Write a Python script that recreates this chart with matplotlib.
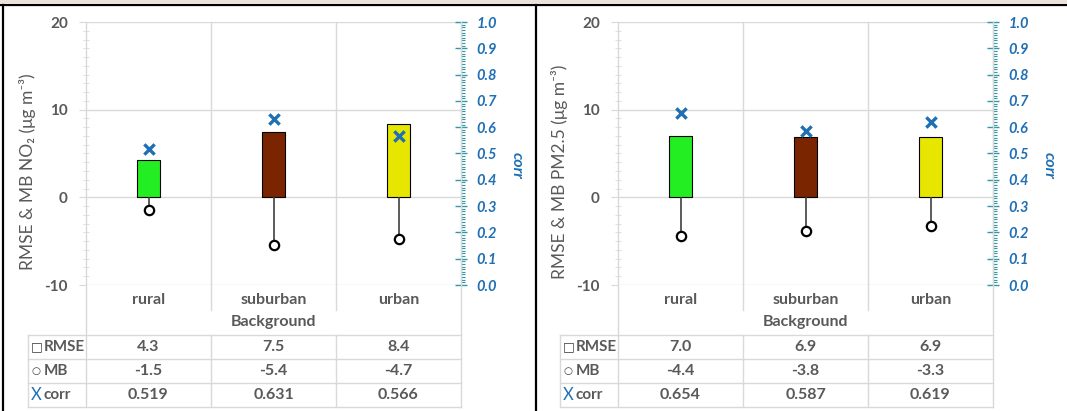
import numpy as np
import matplotlib
matplotlib.use("Agg")
import matplotlib.pyplot as plt
import matplotlib.transforms as mtransforms
from matplotlib.lines import Line2D
from matplotlib.patches import Rectangle
from matplotlib.ticker import MultipleLocator, FormatStrFormatter

plt.rcParams['font.family'] = ['Lato', 'DejaVu Sans']
plt.rcParams['axes.unicode_minus'] = False

# Model evaluation statistics by station type
categories = ["rural", "suburban", "urban"]
group_label = "Background"

no2_rmse = [4.3, 7.5, 8.4]
no2_mb = [-1.5, -5.4, -4.7]
no2_corr = [0.519, 0.631, 0.566]

pm25_rmse = [7.0, 6.9, 6.9]
pm25_mb = [-4.4, -3.8, -3.3]
pm25_corr = [0.654, 0.587, 0.619]

bar_colors = ["#22ee22", "#7a2500", "#e6e600"]
GRAY = "#595959"
LIGHT = "#d9d9d9"
BLUE = "#1f6fb4"
TEAL = "#3397a6"

W, H = 1067, 411
fig = plt.figure(figsize=(W / 100, H / 100), dpi=100)
fig.patch.set_facecolor("white")

# pixel coordinates measured from the top-left corner
pix = mtransforms.Affine2D().scale(1 / W, -1 / H).translate(0, 1) + fig.transFigure


def px_axes(x0, y0, x1, y1):
    return fig.add_axes([x0 / W, 1 - y1 / H, (x1 - x0) / W, (y1 - y0) / H])


def draw_panel(off, ylabel, rmse, mb, corr):
    ax = px_axes(86 + off, 22, 461 + off, 285)
    x = np.arange(len(categories))

    ax.bar(x, rmse, width=0.19, color=bar_colors, edgecolor="black", lw=0.8, zorder=3)
    ax.vlines(x, 0, mb, color="#404040", lw=1.2, zorder=3)
    ax.scatter(x, mb, s=45, facecolor="white", edgecolor="black", lw=1.6, zorder=4)

    ax.set_xlim(-0.5, 2.5)
    ax.set_ylim(-10, 20)
    ax.set_yticks([-10, 0, 10, 20])
    ax.yaxis.set_minor_locator(MultipleLocator(1))
    ax.grid(axis="y", color=LIGHT, lw=1, zorder=0)
    for s in ax.spines.values():
        s.set_visible(False)
    ax.tick_params(axis="y", which="major", length=5, color=LIGHT, direction="out",
                   labelcolor=GRAY, labelsize=11, pad=8)
    ax.tick_params(axis="y", which="minor", length=4, color=LIGHT, direction="inout")
    for t in ax.get_yticklabels():
        t.set_fontweight("bold")
    ax.set_xticks(x)
    ax.set_xticklabels(categories, color=GRAY, fontsize=11.5, fontweight="bold")
    ax.tick_params(axis="x", length=0, pad=6)

    # secondary axis for correlation
    ax2 = ax.twinx()
    ax2.set_ylim(0, 1)
    for name, s in ax2.spines.items():
        s.set_visible(name == "right")
    ax2.spines["right"].set_color(TEAL)
    ax2.yaxis.set_major_locator(MultipleLocator(0.1))
    ax2.yaxis.set_minor_locator(MultipleLocator(0.01))
    ax2.yaxis.set_major_formatter(FormatStrFormatter("%.1f"))
    ax2.tick_params(axis="y", which="major", direction="inout", length=8, width=1,
                    color=TEAL, labelcolor=BLUE, labelsize=10.5, pad=7)
    ax2.tick_params(axis="y", which="minor", direction="out", length=3, width=0.8, color=TEAL)
    for t in ax2.get_yticklabels():
        t.set_fontweight("bold")
        t.set_fontstyle("italic")
    ax2.scatter(x, corr, marker="x", s=55, lw=2.4, color=BLUE, zorder=5)

    fig.text(517 + off, 165, "corr", transform=pix, rotation=270, ha="center", va="center",
             color=BLUE, fontsize=11.5, fontweight="bold", fontstyle="italic")
    fig.text(28 + off, 172, ylabel, transform=pix, rotation=90, ha="center", va="center",
             color=GRAY, fontsize=12.5)

    # data table lines below the plot
    xcol = [86 + off, 211 + off, 336 + off, 461 + off]
    for i, xc in enumerate(xcol):
        if i in (0, 3):
            fig.add_artist(Line2D([xc, xc], [22, 407], transform=pix, color=LIGHT, lw=1))
        else:
            fig.add_artist(Line2D([xc, xc], [22, 310], transform=pix, color=LIGHT, lw=1))
            fig.add_artist(Line2D([xc, xc], [335, 407], transform=pix, color=LIGHT, lw=1))
    fig.add_artist(Line2D([27.5 + off, 27.5 + off], [335, 407], transform=pix, color=LIGHT, lw=1))
    for yr in (335, 359, 383, 407):
        fig.add_artist(Line2D([27.5 + off, 461 + off], [yr, yr], transform=pix, color=LIGHT, lw=1))

    blend = mtransforms.blended_transform_factory(ax.transData, pix)
    ax.text(1, 322, group_label, transform=blend, ha="center", va="center",
            color=GRAY, fontsize=11.5, fontweight="bold")

    # legend keys and labels of the table rows
    rows = [("□", "#404040", 9, "RMSE", ["%.1f" % v for v in rmse], 347),
            ("○", "#404040", 7.5, "MB", ["%.1f" % v for v in mb], 371),
            ("X", BLUE, 12, "corr", ["%.3f" % v for v in corr], 395)]
    for key, kcol, ksize, label, vals, yr in rows:
        fig.text(31 + off, yr, key, transform=pix, ha="left", va="center",
                 color=kcol, fontsize=ksize, family=["DejaVu Sans"] if key != "X" else ["Lato"])
        fig.text(44 + off, yr, label, transform=pix, ha="left", va="center",
                 color=GRAY, fontsize=11, fontweight="bold")
        for xi, v in zip(x, vals):
            ax.text(xi, yr, v, transform=blend, ha="center", va="center",
                    color=GRAY, fontsize=11.5, fontweight="bold")
    return ax


draw_panel(0, "RMSE & MB NO₂ (μg m⁻³)", no2_rmse, no2_mb, no2_corr)
draw_panel(532, "RMSE & MB PM2.5 (μg m⁻³)", pm25_rmse, pm25_mb, pm25_corr)

# panel frames
fig.add_artist(Rectangle((0, 0), W, 3.5, transform=pix, color="#ece3d6", lw=0))
fig.add_artist(Line2D([0, W], [5, 5], transform=pix, color="black", lw=1.6))
fig.add_artist(Line2D([3, 3], [5, H], transform=pix, color="black", lw=1.6))
fig.add_artist(Line2D([536, 536], [5, H], transform=pix, color="black", lw=1.6))

fig.savefig("out.png", dpi=100, facecolor="white")
